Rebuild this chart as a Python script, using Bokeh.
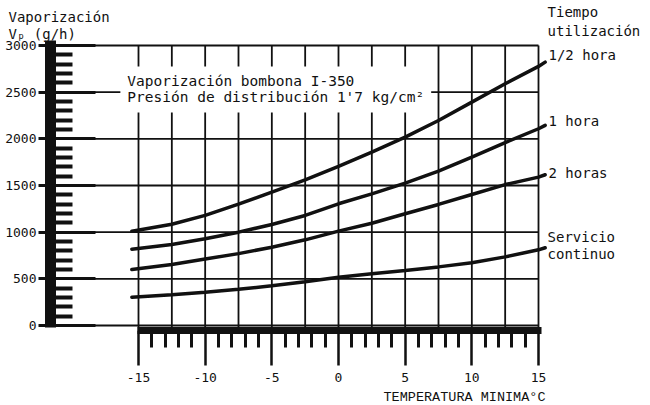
from bokeh.plotting import figure
from bokeh.models import Range1d, FixedTicker, Label
from bokeh.embed import file_html
from bokeh.resources import INLINE

# ---- data ----
temp = [-15.5, -12.5, -10, -7.5, -5, -2.5, 0, 2.5, 5, 7.5, 10, 12.5, 15, 15.5]
half_hour = [1010, 1085, 1180, 1300, 1430, 1560, 1705, 1857, 2018, 2197, 2393, 2590, 2776, 2822]
one_hour = [818, 868, 929, 1000, 1082, 1179, 1304, 1411, 1525, 1654, 1804, 1960, 2108, 2144]
two_hours = [600, 654, 712, 770, 839, 918, 1011, 1096, 1197, 1297, 1404, 1510, 1590, 1615]
continuous = [303, 329, 357, 388, 425, 468, 518, 554, 590, 628, 672, 735, 811, 833]

y_ticks = [0, 500, 1000, 1500, 2000, 2500, 3000]
y_tick_labels = ["0", "500", "1000", "1500", "2000", "2500", "3000"]
x_ticks = [-15, -10, -5, 0, 5, 10, 15]
x_tick_labels = ["-15", "-10", "-5", "0", "5", "10", "15"]
grid_step = 2.5

INK = "#111111"
MONO = "DejaVu Sans Mono"

x_start, x_end = -25.35, 23.4
y_start, y_end = -857.1, 3482.1
y_axis_at = -21.6     # temperature where the vertical scale bar sits
x_axis_at = -53.6     # vaporization level where the horizontal scale bar sits

p = figure(width=650, height=405,
           x_range=Range1d(x_start, x_end), y_range=Range1d(y_start, y_end),
           output_backend="svg", toolbar_location=None)
p.min_border = 0
p.min_border_left = 0
p.min_border_right = 0
p.min_border_top = 0
p.min_border_bottom = 0
p.outline_line_color = None
p.background_fill_color = "white"
p.border_fill_color = "white"
p.xgrid.visible = False
p.ygrid.visible = False

# ---- grid (drawn from tick arrays) ----
n_vert = int(round((x_ticks[-1] - x_ticks[0]) / grid_step)) + 1
grid_temps = [x_ticks[0] + grid_step * i for i in range(n_vert)]
p.segment(x0=[y_axis_at] * len(y_ticks), y0=y_ticks, x1=[x_ticks[-1]] * len(y_ticks), y1=y_ticks,
          line_color=INK, line_width=1.8)
p.segment(x0=grid_temps, y0=[x_axis_at] * len(grid_temps), x1=grid_temps, y1=[y_ticks[-1]] * len(grid_temps),
          line_color=INK, line_width=1.8)

# ---- curves ----
for series in (half_hour, one_hour, two_hours, continuous):
    p.line(temp, series, line_color=INK, line_width=3.5, line_cap="round")

# ---- x axis ----
xa = p.xaxis[0]
xa.fixed_location = x_axis_at
xa.ticker = FixedTicker(ticks=x_ticks,
                        minor_ticks=[t for t in range(x_ticks[0], x_ticks[-1] + 1) if t % 5])
xa.major_label_overrides = dict(zip(x_ticks, x_tick_labels))
xa.bounds = (-15.1, 15.2)
xa.axis_line_color = INK
xa.axis_line_width = 7
xa.major_tick_line_color = INK
xa.major_tick_line_width = 2.5
xa.major_tick_out = 35
xa.major_tick_in = 0
xa.minor_tick_line_color = INK
xa.minor_tick_line_width = 3
xa.minor_tick_out = 17
xa.minor_tick_in = 0
xa.major_label_standoff = 7
xa.major_label_text_font = MONO
xa.major_label_text_font_size = "13px"
xa.major_label_text_color = INK

# ---- y axis ----
ya = p.yaxis[0]
ya.fixed_location = y_axis_at
ya.ticker = FixedTicker(ticks=y_ticks,
                        minor_ticks=[v for v in range(y_ticks[0], y_ticks[-1] + 1, 100) if v % 500])
ya.major_label_overrides = dict(zip(y_ticks, y_tick_labels))
ya.bounds = (-21, 3054)
ya.axis_line_color = INK
ya.axis_line_width = 11
ya.major_tick_line_color = INK
ya.major_tick_line_width = 3
ya.major_tick_in = 45
ya.major_tick_out = 12
ya.minor_tick_line_color = INK
ya.minor_tick_line_width = 4
ya.minor_tick_in = 22
ya.minor_tick_out = 0
ya.major_label_standoff = 2
ya.major_label_text_font = MONO
ya.major_label_text_font_size = "13px"
ya.major_label_text_color = INK

# ---- texts ----
def lab(x, y, text, size="14px", font=MONO, baseline="top", align="left", lh=1.15, **kw):
    l = Label(x=x, y=y, text=text, text_font=font, text_font_size=size, text_color=INK,
              text_baseline=baseline, text_align=align, text_line_height=lh, **kw)
    p.add_layout(l)
    return l

lab(-24.75, 3390, "Vaporización\nVₚ (g/h)", lh=1.07)
lab(-16.36, 2775, "Vaporización bombona I-350\nPresión de distribución 1'7 kg/cm²",
    size="14.5px", lh=1.0, background_fill_color="white", padding=7)
lab(15.68, 3440, "Tiempo\nutilización")
lab(15.75, 2893, "1/2 hora", baseline="middle")
lab(15.75, 2186, "1 hora", baseline="middle")
lab(15.75, 1639, "2 horas", baseline="middle")
lab(15.68, 1035, "Servicio\ncontinuo", lh=1.07)
lab(3.375, -690, "TEMPERATURA MINIMA°C", size="13.5px", font="Liberation Mono")

open("out.html", "w").write(file_html(p, INLINE))
